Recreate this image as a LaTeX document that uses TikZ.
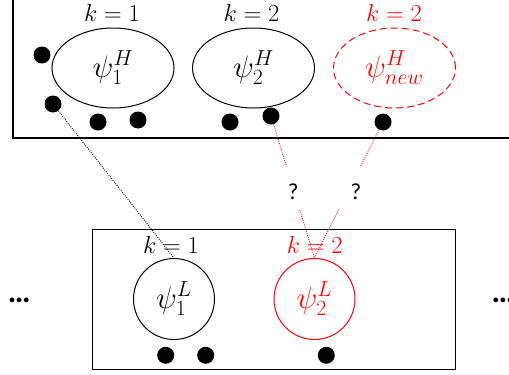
\RequirePackage{fix-cm}
\documentclass[tikz,border=0pt]{standalone}
\usepackage{fontspec}
\newfontfamily\calib{Carlito}
\usetikzlibrary{shapes.geometric,calc}
\tikzset{
  blob/.style={circle, fill=black, minimum size=17pt, inner sep=0pt},
  cluster/.style={ellipse, draw, line width=1pt, minimum width=122pt, minimum height=80pt, inner sep=0pt, font=\fontsize{31}{34}\selectfont},
  lcluster/.style={circle, draw, line width=1pt, minimum size=81pt, inner sep=0pt, font=\fontsize{31}{34}\selectfont},
  klabel/.style={font=\fontsize{24.5}{28}\selectfont, inner sep=0pt},
  link/.style={dash pattern=on 0.9pt off 1.3pt, line width=0.9pt},
  qmark/.style={font=\calib\fontsize{23}{26}\selectfont, inner sep=0pt},
  morestuff/.style={font=\calib\bfseries\fontsize{32}{34}\selectfont, inner sep=0pt},
  frame/.style={draw, line width=1.5pt}
}
\begin{document}
\begin{tikzpicture}[x=1pt, y=-1pt]
\clip (0,0) rectangle (509,375);
% top box
\draw[frame] (13,-10) rectangle (530,138);
% top clusters
\node[cluster] (H1) at (113,68) {$\psi_1^H$};
\node[cluster] (H2) at (253.5,68) {$\psi_2^H$};
\node[cluster, red, dash pattern=on 7pt off 4pt] (H3) at (394.5,68) {$\psi_{new}^H$};
\node[klabel] (kH1) at (112,13) {$k=1$};
\node[klabel] (kH2) at (251.5,13) {$k=2$};
\node[klabel, red] (kH3) at (394,13) {$k=2$};
% top points
\node[blob] (d1) at (42,55) {};
\node[blob] (d2) at (53,104) {};
\node[blob] (d3) at (98,122) {};
\node[blob] (d4) at (138,120) {};
\node[blob] (d5) at (230,122) {};
\node[blob] (d6) at (271,116) {};
\node[blob] (d7) at (383,122) {};
% lower box
\draw[frame] (92.7,229.3) rectangle (455.3,369.3);
\node[lcluster] (L1) at (174,299) {$\psi_1^L$};
\node[lcluster, red] (L2) at (314.5,299) {$\psi_2^L$};
\node[klabel] (kL1) at (171,245) {$k=1$};
\node[klabel, red] (kL2) at (314.7,245) {$k=2$};
\node[blob] (b1) at (165.7,355.3) {};
\node[blob] (b2) at (205.7,355.3) {};
\node[blob] (b3) at (326.3,355.3) {};
% ellipses
\node[morestuff] (e1) at (19.3,300) {…};
\node[morestuff] (e2) at (503,300) {…};
% question marks
\node[qmark] (q1) at (293.3,192) {?};
\node[qmark] (q2) at (356,192) {?};
% links
\draw[link] (d2) -- (L1.north);
\coordinate (g1) at ($(d6)!0.35!(L2.north)$);
\coordinate (g2) at ($(d6)!0.66!(L2.north)$);
\coordinate (g3) at ($(d7)!0.33!(L2.north)$);
\coordinate (g4) at ($(d7)!0.645!(L2.north)$);
\draw[link, red] (d6) -- (g1);
\draw[link, red] (g2) -- (L2.north);
\draw[link, red] (d7) -- (g3);
\draw[link, red] (g4) -- (L2.north);
\end{tikzpicture}
\end{document}
